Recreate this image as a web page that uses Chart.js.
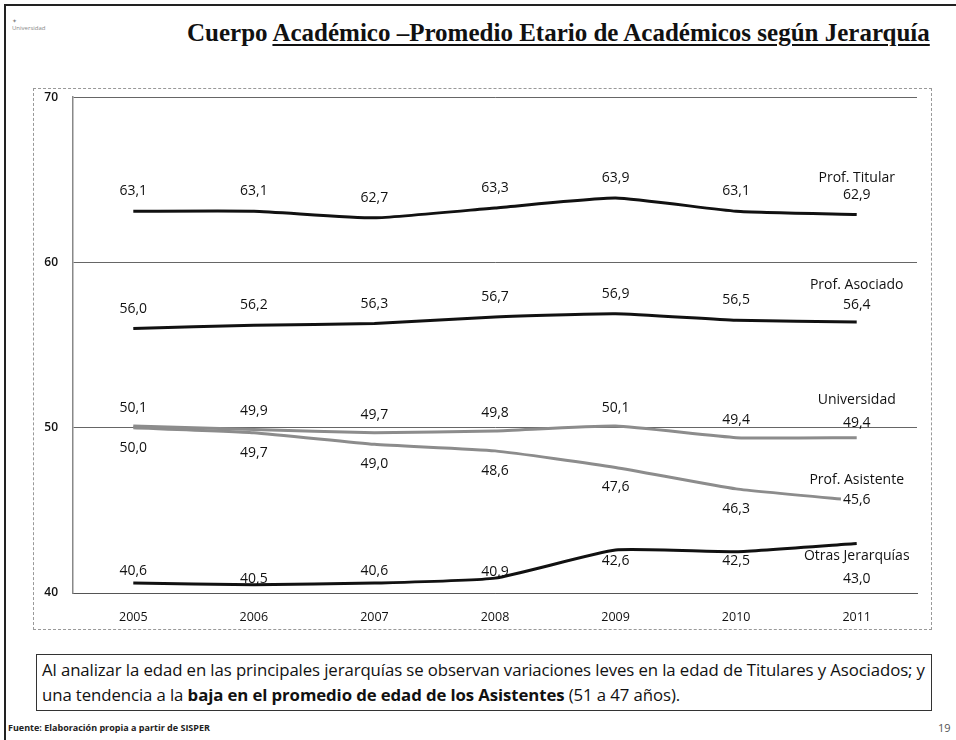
<!DOCTYPE html>
<html lang="es">
<head>
<meta charset="utf-8">
<title>Cuerpo Académico – Promedio Etario de Académicos según Jerarquía</title>
<script src="https://cdn.jsdelivr.net/npm/chart.js@4.4.1/dist/chart.umd.min.js"></script>
<style>
  body { margin: 0; width: 956px; height: 740px; background: #fff; position: relative; overflow: hidden; font-family: "Open Sans", sans-serif; color: #111; }
  .frame-left { position: absolute; left: 4px; top: 4px; width: 2px; height: 736px; background: #222; }
  .frame-top { position: absolute; left: 4px; top: 4px; width: 952px; height: 2px; background: #222; }
  .logo { position: absolute; left: 12px; top: 18px; font-size: 6px; color: #888; line-height: 7px; }
  .title { position: absolute; top: 19px; left: 187px; font-family: "Liberation Serif", serif; font-weight: bold; font-size: 25px; white-space: nowrap; }
  .title u { text-decoration-thickness: 1.5px; text-underline-offset: 3px; }
  .chart-box { position: absolute; left: 33px; top: 88px; width: 899px; height: 542px; border: 1px dashed #999; box-sizing: border-box; }
  .chart-wrap { position: absolute; left: 33px; top: 75px; width: 899px; height: 555px; }
  .note { position: absolute; left: 36px; top: 654px; width: 896px; height: 57px; border: 1px solid #333; box-sizing: border-box; padding: 2px 5px; font-size: 16.8px; line-height: 25px; white-space: nowrap; letter-spacing: -0.1px; }
  .source { position: absolute; left: 8px; top: 721px; font-size: 9px; font-weight: bold; color: #222; }
  .page { position: absolute; left: 938px; top: 720px; font-size: 11px; color: #555; }
</style>
</head>
<body>
<div class="frame-left"></div>
<div class="frame-top"></div>
<div class="logo">✦<br>Universidad</div>
<div class="title">Cuerpo <u>Académico –Promedio Etario de Académicos según Jerarquía</u></div>
<div class="chart-box"></div>
<div class="chart-wrap"><canvas id="ageChart"></canvas></div>
<div class="note">Al analizar la edad en las principales jerarquías se observan variaciones leves en la edad de Titulares y Asociados; y<br>una tendencia a la <b>baja en el promedio de edad de los Asistentes</b> (51 a 47 años).</div>
<div class="source">Fuente: Elaboración propia a partir de SISPER</div>
<div class="page">19</div>
<script>
// Data
const years = ['2005', '2006', '2007', '2008', '2009', '2010', '2011'];
const titular = [63.1, 63.1, 62.7, 63.3, 63.9, 63.1, 62.9];
const asociado = [56.0, 56.2, 56.3, 56.7, 56.9, 56.5, 56.4];
const universidad = [50.1, 49.9, 49.7, 49.8, 50.1, 49.4, 49.4];
const asistente = [50.0, 49.7, 49.0, 48.6, 47.6, 46.3, 45.6];
const otras = [40.6, 40.5, 40.6, 40.9, 42.6, 42.5, 43.0];
const yTicks = [40, 50, 60, 70];

// Label offsets in px (value label vs point), and [name, value] offsets for the last point
const valueOffsets = [-20, -20, -18, 20, [-12, -6, -12, -6, 11, 9]];
const endOffsets = [[-37, -20], [-37, -17], [-38, -15], [-20, 0], [13, 36]];

const fmt = v => v.toFixed(1).replace('.', ',');

const labelPlugin = {
    id: 'seriesLabels',
    afterDatasetsDraw(chart) {
        const ctx = chart.ctx;
        ctx.save();
        ctx.textAlign = 'center';
        ctx.textBaseline = 'middle';
        ctx.fillStyle = '#111';
        chart.data.datasets.forEach((ds, i) => {
            const meta = chart.getDatasetMeta(i);
            const last = ds.data.length - 1;
            meta.data.forEach((pt, j) => {
                ctx.font = '14px "Open Sans"';
                if (j === last) {
                    ctx.fillText(ds.label, pt.x, pt.y + endOffsets[i][0]);
                    const txt = fmt(ds.data[j]);
                    const y = pt.y + endOffsets[i][1];
                    if (endOffsets[i][1] === 0) {
                        const w = ctx.measureText(txt).width;
                        ctx.fillStyle = '#fff';
                        ctx.fillRect(pt.x - w / 2 - 2, y - 8, w + 4, 16);
                        ctx.fillStyle = '#111';
                    }
                    ctx.fillText(txt, pt.x, y);
                } else {
                    const off = Array.isArray(valueOffsets[i]) ? valueOffsets[i][j] : valueOffsets[i];
                    ctx.fillText(fmt(ds.data[j]), pt.x, pt.y + off);
                }
            });
        });
        ctx.restore();
    }
};

const black = '#111';
const gray = '#8c8c8c';

const ctx = document.getElementById('ageChart').getContext('2d');
new Chart(ctx, {
    type: 'line',
    data: {
        labels: years,
        datasets: [
            { label: 'Prof. Titular', data: titular, borderColor: black, borderWidth: 3 },
            { label: 'Prof. Asociado', data: asociado, borderColor: black, borderWidth: 3 },
            { label: 'Universidad', data: universidad, borderColor: gray, borderWidth: 3 },
            { label: 'Prof. Asistente', data: asistente, borderColor: gray, borderWidth: 3 },
            { label: 'Otras Jerarquías', data: otras, borderColor: black, borderWidth: 3 }
        ]
    },
    options: {
        responsive: true,
        maintainAspectRatio: false,
        animation: false,
        elements: {
            point: { radius: 0 },
            line: { tension: 0.15 }
        },
        layout: { padding: { left: 0, right: 15, top: 9, bottom: 0 } },
        plugins: {
            legend: { display: false },
            tooltip: { enabled: false }
        },
        scales: {
            x: {
                offset: true,
                grid: { display: false },
                border: { color: '#555', width: 1 },
                ticks: { padding: 9, color: '#111', font: { family: 'Open Sans', size: 12.5 } },
                afterFit(scale) { scale.height = 37; }
            },
            y: {
                min: 40,
                max: 70,
                afterBuildTicks(scale) { scale.ticks = yTicks.map(v => ({ value: v })); },
                grid: { color: '#666', lineWidth: 1, drawTicks: false },
                border: { color: '#888', width: 1.5 },
                ticks: { padding: 15, color: '#111', font: { family: 'Open Sans', size: 12, weight: '600' } },
                afterFit(scale) { scale.width = 40; }
            }
        }
    },
    plugins: [labelPlugin]
});
</script>
</body>
</html>
